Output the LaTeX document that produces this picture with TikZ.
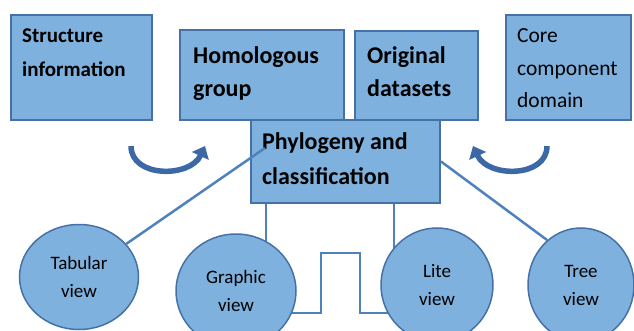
\documentclass[tikz,border=0pt]{standalone}
\usepackage{fontspec}
\setmainfont{Carlito}
\usetikzlibrary{shapes.geometric,backgrounds,arrows.meta,calc}
\definecolor{boxfill}{HTML}{7EB1DD}
\definecolor{boxline}{HTML}{4671A6}
\definecolor{connline}{HTML}{4F81BD}
\definecolor{arrowcol}{HTML}{3C69A6}
\begin{document}
\begin{tikzpicture}[x=1pt,y=-1pt,
  box/.style={draw=boxline, line width=2pt, fill=boxfill, inner sep=0pt, anchor=north west},
  btext/.style={anchor=base west, align=left, inner sep=0pt, font=\bfseries\fontsize{24}{33}\selectfont},
  stext/.style={anchor=base west, align=left, inner sep=0pt, font=\bfseries\fontsize{21}{34}\selectfont},
  rtext/.style={anchor=base west, align=left, inner sep=0pt, font=\fontsize{21.5}{32.5}\selectfont},
  viewnode/.style={ellipse, draw=boxline, line width=1.5pt, fill=boxfill, inner sep=0pt, align=center, font=\fontsize{19}{28}\selectfont},
  conn/.style={draw=connline, line width=2.5pt},
  curvearrow/.style={draw=arrowcol, line width=5.5pt, -{Triangle[length=11pt,width=18pt]}}
]
\useasboundingbox (0,0) rectangle (634,331);
\clip (0,0) rectangle (634,331);

% boxes
\node[box, minimum width=141pt, minimum height=105pt] (struct) at (10,14) {};
\node[box, minimum width=164pt, minimum height=90pt] (homo) at (179,29) {};
\node[box, minimum width=123pt, minimum height=89pt] (orig) at (354,30) {};
\node[box, minimum width=125pt, minimum height=105pt] (core) at (505,14) {};
\node[box, minimum width=189pt, minimum height=83pt] (phylo) at (250,119) {};

% box texts (anchored at the baseline of the last line)
\node[stext] (structT) at (22,77) {Structure\\information};
\node[btext] (homoT) at (193,97) {Homologous\\group};
\node[btext] (origT) at (367,97) {Original\\datasets};
\node[rtext] (coreT) at (517,108) {Core\\component\\domain};
\node[btext, font=\bfseries\fontsize{24}{35}\selectfont] (phyloT) at (262,185) {Phylogeny and\\classification};

% view circles
\node[viewnode, minimum width=119pt, minimum height=105pt] (tab) at (79,277) {Tabular\\view};
\node[viewnode, minimum width=120pt, minimum height=114pt] (graphic) at (236,291) {Graphic\\view};
\node[viewnode, minimum width=112pt, minimum height=114pt] (lite) at (437,285) {Lite\\view};
\node[viewnode, minimum width=106pt, minimum height=114pt] (tree) at (581,285) {Tree\\view};

% connectors behind
\coordinate (wy) at (0,313);
\coordinate (w1) at (321,253);
\coordinate (w2) at (360,253);
\begin{scope}[on background layer]
  \draw[conn] ([xshift=16pt]phylo.south west) -- ([xshift=16pt]phylo.south west |- graphic.center);
  \draw[conn] ([xshift=-47pt]phylo.south east) -- ([xshift=-47pt]phylo.south east |- lite.center);
  \draw[conn] (graphic.center |- wy) -| (w1) -- (w2) |- (lite.center |- wy);
  \draw[conn] (phylo.east) -- (tree.127);
\end{scope}

% connector on top
\coordinate (pend) at (265,148);
\draw[conn] (tab.35) -- (pend);

% curved arrows
\draw[curvearrow] (131,146) .. controls (131,178) and (190,178) .. (205,146);
\draw[curvearrow] (547,146) .. controls (547,178) and (488,178) .. (473,146);
\end{tikzpicture}
\end{document}
